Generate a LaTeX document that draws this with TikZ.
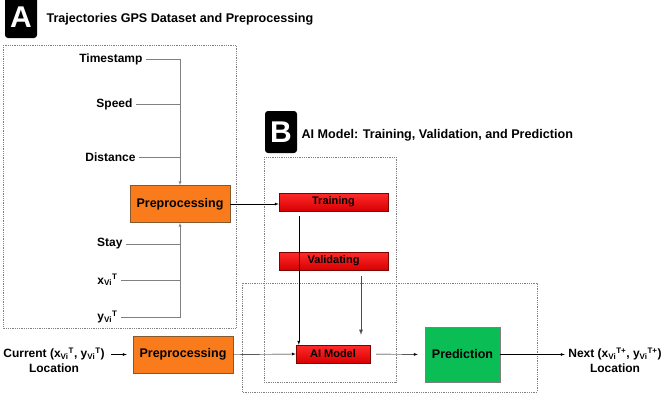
\documentclass[tikz,border=0pt]{standalone}
\usepackage{fontspec}
\setmainfont{Liberation Sans}
\usetikzlibrary{positioning}

\definecolor{prepor}{HTML}{F97B1C}
\definecolor{predgr}{HTML}{0BBD55}
\definecolor{redtop}{HTML}{FF2B2B}
\definecolor{redbot}{HTML}{D80000}

\tikzset{
	panel/.style={fill=black,text=white,rounded corners=3pt,minimum width=32pt,minimum height=42pt,inner sep=0pt,font=\fontsize{30}{30}\selectfont\bfseries},
	ptitle/.style={anchor=west,font=\fontsize{12.6}{14}\selectfont\bfseries},
	group/.style={draw=gray,densely dotted,thick},
	prepbox/.style={draw=brown!70!black,fill=prepor,minimum width=100pt,minimum height=37pt,font=\fontsize{12.5}{14}\selectfont\bfseries},
	redbox/.style={draw=red!50!black,top color=redtop,bottom color=redbot,minimum width=109pt,minimum height=18pt,inner sep=0pt,font=\fontsize{11}{12}\selectfont\bfseries},
	feat/.style={anchor=east,font=\fontsize{12}{14}\selectfont\bfseries},
	feed/.style={draw=gray},
	txt/.style={align=center,font=\fontsize{12}{15}\selectfont\bfseries},
}

\begin{document}
\begin{tikzpicture}[x=1pt,y=-1pt,>=latex]
	\useasboundingbox (0,0) rectangle (663,400);
	\node[panel] (A) at (21,17) {A};
	\node[ptitle] (titleA) at (43,19) {Trajectories GPS Dataset and Preprocessing};
	\draw[group] (3,45) rectangle (236,328);
	\node[prepbox] (prep1) at (180,204) {Preprocessing};
	\node[feat] (ts) at (146,59) {Timestamp};
	\node[feat] (sp) at (136,104) {Speed};
	\node[feat] (di) at (139,157) {Distance};
	\node[feat] (st) at (126,244) {Stay};
	\node[feat] (xv) at (121,280) {x\textsubscript{Vi}\textsuperscript{T}};
	\node[feat] (yv) at (121,317) {y\textsubscript{Vi}\textsuperscript{T}};
	\draw[feed,->] (ts) -| (prep1);
	\draw[feed] (sp) -- (sp -| prep1);
	\draw[feed] (di) -- (di -| prep1);
	\draw[feed,->] (yv) -| (prep1);
	\draw[feed] (st) -- (st -| prep1);
	\draw[feed] (xv) -- (xv -| prep1);

	\node[panel] (B) at (281,132) {B};
	\node[ptitle] (titleB) at (298,135) {AI Model: Training, Validation, and Prediction};
	\draw[group] (264,157) rectangle (396,382);
	\draw[group] (242,283) rectangle (537,392);
	\node[redbox] (train) at (333.5,202) {Training};
	\node[redbox] (valid) at (333.5,261) {Validating};
	\node[redbox,minimum width=74pt] (ai) at (333,354) {AI Model};
	\node[draw=gray,fill=predgr,minimum width=75pt,minimum height=55pt,font=\fontsize{12.5}{14}\selectfont\bfseries] (pred) at (462.5,354.5) {Prediction};
	\node[prepbox] (prep2) at (183,354.5) {Preprocessing};
	\node[txt] (cur) at (54,360) {Current (x\textsubscript{Vi}\textsuperscript{T}, y\textsubscript{Vi}\textsuperscript{T})\\Location};
	\node[txt] (next) at (615,360) {Next (x\textsubscript{Vi}\textsuperscript{T+}, y\textsubscript{Vi}\textsuperscript{T+})\\Location};

	\coordinate (tin) at ([xshift=3pt]ai.north west);
	\coordinate (vin) at ([xshift=28pt]ai.north);
	\draw[->] (prep1.east) -- (prep1.east -| train.west);
	\draw[->,shorten <=5pt] (train.south -| tin) -- (tin);
	\draw[->,draw=black!70,thick,shorten <=6pt,shorten >=10pt] (valid.south -| vin) -- (vin);
	\draw[->,shorten <=3pt] (cur.east |- prep2) -- ([xshift=-6pt]prep2.west);
	\draw[->] (prep2.east) -- (ai.west);
	\draw[->,shorten <=6pt,shorten >=7pt] (ai.east) -- (pred.west);
	\draw[->] (pred.east) -- (pred -| next.west);
\end{tikzpicture}
\end{document}
